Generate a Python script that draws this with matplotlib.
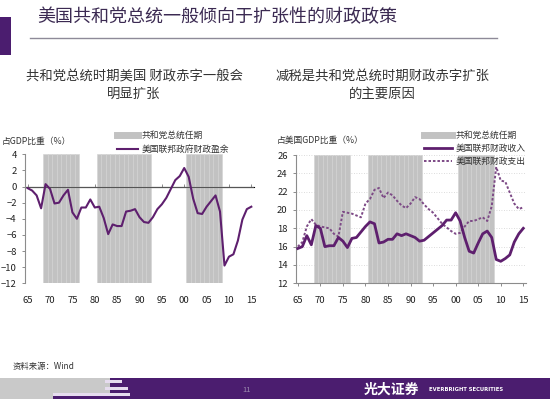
import matplotlib
matplotlib.use("Agg")
import matplotlib.pyplot as plt
from matplotlib.lines import Line2D
from matplotlib.patches import Rectangle
import numpy as np

plt.rcParams['font.family'] = ['Noto Sans CJK SC', 'DejaVu Sans']

# ---------------- data ----------------
years = list(range(1965, 2016))
rep_years = list(range(1969, 1977)) + list(range(1981, 1993)) + list(range(2001, 2009))

surplus = [-0.2, -0.5, -1.1, -2.7, 0.3, -0.3, -2.1, -2.0, -1.1, -0.4,
           -3.2, -4.0, -2.6, -2.6, -1.6, -2.6, -2.5, -3.9, -5.9, -4.7,
           -4.9, -4.9, -3.1, -3.0, -2.8, -3.8, -4.4, -4.5, -3.8, -2.8,
           -2.2, -1.4, -0.3, 0.8, 1.3, 2.3, 1.2, -1.5, -3.3, -3.4,
           -2.5, -1.8, -1.1, -3.1, -9.8, -8.7, -8.4, -6.7, -4.1, -2.8,
           -2.5]

revenue = [15.8, 16.0, 17.2, 16.2, 18.3, 18.0, 16.0, 16.1, 16.1, 17.0,
           16.6, 15.9, 16.9, 17.0, 17.6, 18.2, 18.7, 18.5, 16.4, 16.5,
           16.8, 16.8, 17.4, 17.2, 17.4, 17.2, 17.0, 16.6, 16.7, 17.1,
           17.5, 17.9, 18.3, 18.9, 18.9, 19.7, 18.8, 17.0, 15.5, 15.3,
           16.4, 17.4, 17.7, 17.0, 14.6, 14.4, 14.7, 15.1, 16.5, 17.4,
           18.0]

outlays = [16.0, 16.5, 18.2, 19.0, 18.4, 18.2, 18.1, 18.0, 17.4, 17.1,
           19.8, 19.7, 19.6, 19.4, 19.2, 20.7, 21.2, 22.2, 22.4, 21.3,
           21.9, 21.6, 21.0, 20.5, 20.2, 20.7, 21.4, 21.2, 20.6, 20.1,
           19.7, 19.1, 18.5, 18.1, 17.7, 17.4, 17.5, 18.2, 18.8, 18.8,
           19.0, 19.2, 18.8, 20.4, 24.7, 23.2, 23.1, 21.9, 20.7, 20.1,
           20.3]

xticks = [1965, 1970, 1975, 1980, 1985, 1990, 1995, 2000, 2005, 2010, 2015]
xticklabels = ['65', '70', '75', '80', '85', '90', '95', '00', '05', '10', '15']

title = '美国共和党总统一般倾向于扩张性的财政政策'
sub_left = '共和党总统时期美国 财政赤字一般会\n明显扩张'
sub_right = '减税是共和党总统时期财政赤字扩张\n的主要原因'
ylab_left = '占GDP比重（%）'
ylab_right = '占美国GDP比重（%）'
leg_shade = '共和党总统任期'
leg_surplus = '美国联邦政府财政盈余'
leg_rev = '美国联邦财政收入'
leg_out = '美国联邦财政支出'
source = '资料来源：Wind'

# ---------------- style ----------------
W, H = 550, 399
PURPLE = '#4b1d6f'
LINE = '#5e1f6e'
SHADE = '#c2c2c2'
TXT = '#333333'
AXC = '#8c8c8c'

fig = plt.figure(figsize=(W / 100, H / 100), dpi=100)
fig.patch.set_facecolor('white')

def fx(px):
    return px / W

def fy(py):
    return 1 - py / H

# decorative header/footer
fig.add_artist(Rectangle((0, fy(55)), fx(11), (55 - 17) / H, transform=fig.transFigure,
                         color=PURPLE, lw=0))
fig.add_artist(Line2D([fx(30), fx(497)], [fy(38), fy(38)], transform=fig.transFigure,
                      color='#8e8a98', lw=1.0))
fig.text(fx(37), fy(17.5), title, fontsize=13, color='#3b2a52', va='center', ha='left')
fig.text(fx(134), fy(85), sub_left, fontsize=9.6, color=TXT, ha='center', va='center',
         linespacing=1.25)
fig.text(fx(382), fy(85), sub_right, fontsize=9.6, color=TXT, ha='center', va='center',
         linespacing=1.25)

# footer
fig.add_artist(Rectangle((0, 0), fx(110), (399 - 378) / H, transform=fig.transFigure,
                         color='#c9c9c9', lw=0))
fig.add_artist(Rectangle((fx(110), 0), 1 - fx(110), (399 - 378) / H, transform=fig.transFigure,
                         color=PURPLE, lw=0))
fig.add_artist(Rectangle((fx(53), 0), fx(57), 4 / H, transform=fig.transFigure,
                         color=PURPLE, lw=0))
for (x0, x1, y0, y1) in [(105, 122, 379.5, 382.5), (105, 128, 386.5, 390), (53, 130, 392.5, 395.5)]:
    fig.add_artist(Rectangle((fx(x0), fy(y1)), fx(x1 - x0), (y1 - y0) / H,
                             transform=fig.transFigure, color='#e6dcef', lw=0))
fig.text(fx(247), fy(389.5), '11', fontsize=5.5, color='#9b8aae', ha='center', va='center')
fig.text(fx(391), fy(389.5), '光大证券', fontsize=10, color='white', ha='center', va='center',
         fontweight='bold')
fig.text(fx(466), fy(389.5), 'EVERBRIGHT SECURITIES', fontsize=3.8, color='white',
         ha='center', va='center', fontweight='bold', family='DejaVu Sans')
fig.text(fx(13), fy(366), source, fontsize=6, color=TXT, ha='left', va='center')

# ---------------- left chart ----------------
axL = fig.add_axes([fx(25), 1 - 283.3 / H, fx(229), 129 / H])
axL.set_xlim(1964.4, 2015.6)
axL.set_ylim(-12, 4)
axL.bar(rep_years, [16] * len(rep_years), bottom=-12, width=1.0, color=SHADE,
        edgecolor='#d2d2d2', linewidth=0.4, zorder=1)
axL.axhline(0, color='#555555', lw=0.8, zorder=2)
axL.plot(years, surplus, color=LINE, lw=1.5, zorder=3)
axL.set_yticks(range(-12, 5, 2))
axL.set_xticks(xticks)
axL.set_xticklabels(xticklabels)
for s in ['top', 'right', 'bottom']:
    axL.spines[s].set_visible(False)
axL.spines['left'].set_color(AXC)
axL.tick_params(axis='y', labelsize=6.8, colors=AXC, labelcolor='#222222', length=2.5, width=0.7)
axL.tick_params(axis='x', labelsize=6.8, length=0, pad=9, labelcolor='#222222')
secL = axL.secondary_xaxis(0.75)
secL.set_xticks(xticks)
secL.set_xticklabels([''] * len(xticks))
secL.tick_params(axis='x', length=2.5, width=0.7, colors=AXC, direction='out')
secL.spines['bottom'].set_visible(False)
fig.text(fx(2), fy(141), ylab_left, fontsize=6.3, color=TXT, ha='left', va='center')

hL = [Line2D([], [], color=SHADE, lw=5), Line2D([], [], color=LINE, lw=1.5)]
axL.legend(hL, [leg_shade, leg_surplus], loc='upper left', bbox_to_anchor=(fx(117), fy(131)),
           bbox_transform=fig.transFigure, frameon=False, fontsize=6.3, handlelength=2.4,
           handletextpad=0.4, labelspacing=0.55, borderaxespad=0, borderpad=0,
           labelcolor=TXT)

# ---------------- right chart ----------------
axR = fig.add_axes([fx(296), 1 - 283.3 / H, fx(230), 128.3 / H])
axR.set_xlim(1964.6, 2015.6)
axR.set_ylim(12, 26)
axR.bar(rep_years, [14] * len(rep_years), bottom=12, width=1.0, color=SHADE,
        edgecolor='#d2d2d2', linewidth=0.4, zorder=1)
axR.set_yticks(range(12, 27, 2))
axR.yaxis.grid(True, color='#d0d0d0', lw=0.6, ls=(0, (1, 2)), zorder=0)
axR.set_axisbelow(True)
axR.plot(years, outlays, color='#7d4a86', lw=1.4, ls=(0, (1.3, 1.0)), zorder=3)
axR.plot(years, revenue, color=LINE, lw=2.0, zorder=4)
axR.set_xticks(xticks)
axR.set_xticklabels(xticklabels)
for s in ['top', 'right']:
    axR.spines[s].set_visible(False)
axR.spines['left'].set_color(AXC)
axR.spines['bottom'].set_color(AXC)
axR.tick_params(axis='y', labelsize=6.8, colors=AXC, labelcolor='#222222', length=2.5, width=0.7)
axR.tick_params(axis='x', labelsize=6.8, colors=AXC, labelcolor='#222222', length=2.5,
                width=0.7, pad=7)
fig.text(fx(277), fy(140), ylab_right, fontsize=6.3, color=TXT, ha='left', va='center')

hR = [Line2D([], [], color=SHADE, lw=5), Line2D([], [], color=LINE, lw=2.0),
      Line2D([], [], color='#7d4a86', lw=1.4, ls=(0, (1.3, 1.0)))]
axR.legend(hR, [leg_shade, leg_rev, leg_out], loc='upper left', bbox_to_anchor=(fx(424), fy(131)),
           bbox_transform=fig.transFigure, frameon=False, fontsize=6.3, handlelength=3.2,
           handletextpad=0.4, labelspacing=0.45, borderaxespad=0, borderpad=0,
           labelcolor=TXT)

fig.savefig('out.png', dpi=100, facecolor='white')
